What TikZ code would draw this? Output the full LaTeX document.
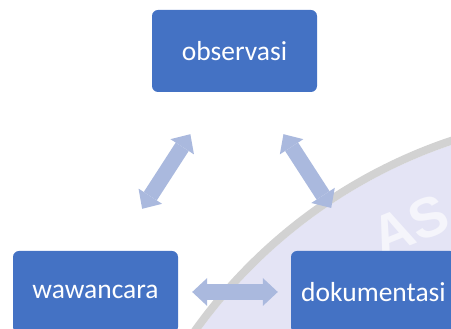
\documentclass[tikz,border=0pt]{standalone}
\usepackage{fontspec}
\setmainfont{Carlito}
\newfontfamily\wmfont{Liberation Sans}
\usepackage{tikz}
\usetikzlibrary{arrows.meta,positioning,calc}
\definecolor{boxblue}{HTML}{4472C4}
\definecolor{arr}{HTML}{AAB9DE}
\definecolor{wmline}{HTML}{D2D2D2}
\definecolor{wmfill}{HTML}{E4E4F5}
\definecolor{wmtext}{HTML}{F5F5FB}

\begin{document}
\begin{tikzpicture}[x=1pt,y=1pt,
  stage/.style={fill=boxblue,rounded corners=6pt,minimum width=165pt,minimum height=82pt,
    inner sep=0pt,text=white,font=\fontsize{27.5}{31}\selectfont},
  twoway/.style={arr,line width=15.5pt,
    {Triangle[length=15pt,width=28pt,line width=0pt]}-{Triangle[length=15pt,width=28pt,line width=0pt]}}]
  \useasboundingbox (0,0) rectangle (451,329);
  % faint logo in the background
  \begin{scope}
    \clip (0,0) rectangle (451,329);
    \fill[wmfill] (616,-302) circle (513);
    \draw[wmline,line width=8pt] (616,-302) circle (517);
    \node[wmtext,rotate=22,inner sep=0pt,font=\wmfont\bfseries\fontsize{56}{56}\selectfont] (wmark) at (410,104) {AS};
  \end{scope}
  % the three stages
  \node[stage] (observasi) at (234.5,278) {observasi};
  \node[stage] (wawancara) at (95.5,37) {wawancara};
  \node[stage] (dokumentasi) at (373.5,37) {dokumentasi};
  % links between them
  \draw[twoway,shorten <=50pt,shorten >=50pt]
    ($(wawancara.north)+(19.5,0)$) -- ($(observasi.south)+(-17,0)$);
  \draw[twoway,shorten <=50pt,shorten >=51pt]
    ($(observasi.south)+(21.8,0)$) -- ($(dokumentasi.north)+(-14.6,0)$);
  \draw[twoway,shorten <=14pt,shorten >=13pt] (wawancara) -- (dokumentasi);
\end{tikzpicture}
\end{document}
